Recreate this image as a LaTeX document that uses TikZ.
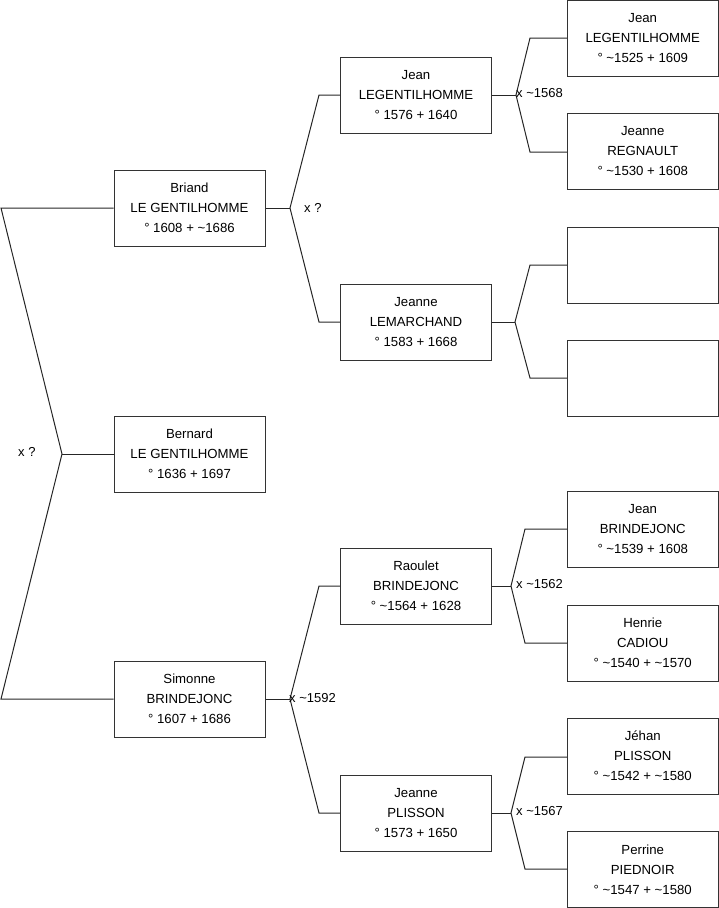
\documentclass[tikz,border=0pt]{standalone}
\usepackage{fontspec}
\setmainfont{Liberation Sans}
\begin{document}
\begin{tikzpicture}[x=1pt,y=-1pt,
  person/.style={draw=black!80, line width=1pt, fill=white, minimum width=151pt, minimum height=76pt, inner sep=0pt, align=center, font=\fontsize{13.2}{20}\selectfont},
  link/.style={draw=black!85, line width=1pt, line join=miter},
  lbl/.style={anchor=west, inner sep=0pt, font=\fontsize{13}{14}\selectfont}]
\useasboundingbox (0,0) rectangle (719,908);
% column 1
\node[person] (briand)  at (189.5,208) {Briand\\LE GENTILHOMME\\° 1608 + \textasciitilde 1686};
\node[person] (bernard) at (189.5,454) {Bernard\\LE GENTILHOMME\\° 1636 + 1697};
\node[person] (simonne) at (189.5,699) {Simonne\\BRINDEJONC\\° 1607 + 1686};
% column 2
\node[person] (jean2)    at (416,95)  {Jean\\LEGENTILHOMME\\° 1576 + 1640};
\node[person] (jeanneL)  at (416,322) {Jeanne\\LEMARCHAND\\° 1583 + 1668};
\node[person] (raoulet)  at (416,586) {Raoulet\\BRINDEJONC\\° \textasciitilde 1564 + 1628};
\node[person] (jeanneP)  at (416,813) {Jeanne\\PLISSON\\° 1573 + 1650};
% column 3
\node[person] (jean3)    at (642.75,38.5)  {Jean\\LEGENTILHOMME\\° \textasciitilde 1525 + 1609};
\node[person] (regnault) at (642.75,151) {Jeanne\\REGNAULT\\° \textasciitilde 1530 + 1608};
\node[person] (empty1)   at (642.75,265) {};
\node[person] (empty2)   at (642.75,378) {};
\node[person] (jeanB)    at (642.75,529) {Jean\\BRINDEJONC\\° \textasciitilde 1539 + 1608};
\node[person] (cadiou)   at (642.75,643) {Henrie\\CADIOU\\° \textasciitilde 1540 + \textasciitilde 1570};
\node[person] (jehan)    at (642.75,756) {Jéhan\\PLISSON\\° \textasciitilde 1542 + \textasciitilde 1580};
\node[person] (piednoir) at (642.75,869.5) {Perrine\\PIEDNOIR\\° \textasciitilde 1547 + \textasciitilde 1580};
% connector points
\coordinate (j0) at (62,454);   \coordinate (j0a) at (1,208);   \coordinate (j0b) at (1,699);
\coordinate (j1) at (290,208);  \coordinate (j1a) at (319,95);  \coordinate (j1b) at (319,322);
\coordinate (j2) at (290,699);  \coordinate (j2a) at (319,586); \coordinate (j2b) at (319,813);
\coordinate (j3) at (516,95);   \coordinate (j3a) at (530,38);  \coordinate (j3b) at (530,152);
\coordinate (j4) at (515,322);  \coordinate (j4a) at (530,265); \coordinate (j4b) at (530,378);
\coordinate (j5) at (511,586);  \coordinate (j5a) at (525,529); \coordinate (j5b) at (525,643);
\coordinate (j6) at (511,813);  \coordinate (j6a) at (525,757); \coordinate (j6b) at (525,869);
% connectors
\draw[link] (briand.west |- j0a) -- (j0a) -- (j0) -- (j0b) -- (simonne.west |- j0b);
\draw[link] (bernard.west) -- (j0);
\draw[link] (briand.east) -- (j1);
\draw[link] (jean2.west |- j1a) -- (j1a) -- (j1) -- (j1b) -- (jeanneL.west |- j1b);
\draw[link] (simonne.east) -- (j2);
\draw[link] (raoulet.west |- j2a) -- (j2a) -- (j2) -- (j2b) -- (jeanneP.west |- j2b);
\draw[link] (jean2.east) -- (j3);
\draw[link] (jean3.west |- j3a) -- (j3a) -- (j3) -- (j3b) -- (regnault.west |- j3b);
\draw[link] (jeanneL.east) -- (j4);
\draw[link] (empty1.west |- j4a) -- (j4a) -- (j4) -- (j4b) -- (empty2.west |- j4b);
\draw[link] (raoulet.east) -- (j5);
\draw[link] (jeanB.west |- j5a) -- (j5a) -- (j5) -- (j5b) -- (cadiou.west |- j5b);
\draw[link] (jeanneP.east) -- (j6);
\draw[link] (jehan.west |- j6a) -- (j6a) -- (j6) -- (j6b) -- (piednoir.west |- j6b);
% labels
\node[lbl] (l0) at (18,452) {x ?};
\node[lbl] (l1) at (304,208) {x ?};
\node[lbl] (l2) at (289,698) {x \textasciitilde 1592};
\node[lbl] (l3) at (516,93) {x \textasciitilde 1568};
\node[lbl] (l5) at (516,584) {x \textasciitilde 1562};
\node[lbl] (l6) at (516,811) {x \textasciitilde 1567};
\end{tikzpicture}
\end{document}
